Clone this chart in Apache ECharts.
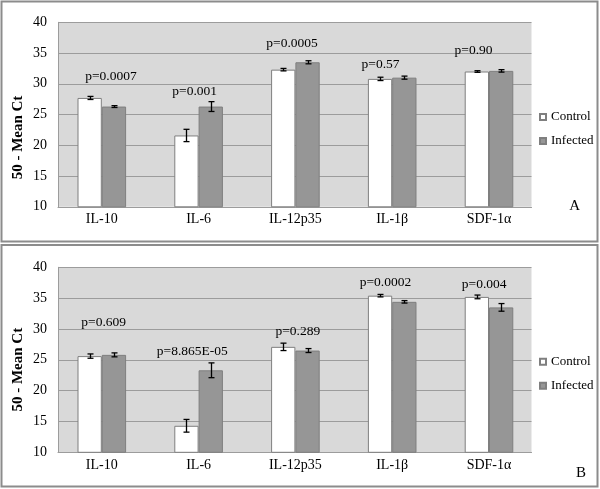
<!DOCTYPE html>
<html>
<head>
<meta charset="utf-8">
<script src="https://cdn.jsdelivr.net/npm/echarts@6/dist/echarts.min.js"></script>
<style>html,body{margin:0;padding:0;background:#fff;}#c{width:600px;height:489px;}</style>
</head>
<body>
<div id="c"></div>
<script>
// ---- data ----
const categories = ['IL-10', 'IL-6', 'IL-12p35', 'IL-1β', 'SDF-1α'];
const yTicks = [10, 15, 20, 25, 30, 35, 40];

// Panel A
const controlA = [27.7, 21.6, 32.3, 30.8, 32.0];
const controlErrA = [0.25, 1.0, 0.2, 0.27, 0.13];
const infectedA = [26.3, 26.3, 33.5, 31.0, 32.1];
const infectedErrA = [0.15, 0.8, 0.25, 0.25, 0.2];
const pTextA = ['p=0.0007', 'p=0.001', 'p=0.0005', 'p=0.57', 'p=0.90'];
const pValueAtA = [31.2, 28.7, 36.5, 33.2, 35.4];
const pShiftA = [0.095, -0.04, -0.035, -0.12, -0.16];

// Panel B
const controlB = [25.6, 14.3, 27.1, 35.4, 35.2];
const controlErrB = [0.35, 1.03, 0.6, 0.2, 0.3];
const infectedB = [25.8, 23.3, 26.5, 34.4, 33.5];
const infectedErrB = [0.32, 1.2, 0.32, 0.2, 0.62];
const pTextB = ['p=0.609', 'p=8.865E-05', 'p=0.289', 'p=0.0002', 'p=0.004'];
const pValueAtB = [31.0, 26.3, 29.6, 37.5, 37.2];
const pShiftB = [0.02, -0.065, 0.025, -0.07, -0.05];

// ---- styles ----
const FONT = 'Liberation Serif';
const BG = '#d9d9d9';
const GRIDLINE = '#9c9c9c';
const BAR_BORDER = '#7f7f7f';
const INFECTED = '#969696';
const GAP = '49.8%';
const BAR_FRAC = (1 - 0.498) / 2;

const chart = echarts.init(document.getElementById('c'), null, {renderer: 'canvas'});

function errSeries(gridIdx, vals, errs, sign) {
  return {
    type: 'custom', xAxisIndex: gridIdx, yAxisIndex: gridIdx, z: 5, silent: true,
    data: vals.map((v, i) => [i, v, errs[i]]),
    renderItem: function (params, api) {
      const i = api.value(0), v = api.value(1), e = api.value(2);
      const c = api.coord([i, v]);
      const bw = api.size([1, 0])[0];
      const x = Math.round(c[0] + sign * bw * BAR_FRAC / 2) + 0.5;
      const yt = api.coord([i, v + e])[1];
      const yb = api.coord([i, v - e])[1];
      const st = {stroke: '#000', lineWidth: 1.3};
      return {type: 'group', children: [
        {type: 'line', shape: {x1: x, y1: yt, x2: x, y2: yb}, style: st},
        {type: 'line', shape: {x1: x - 3, y1: yt, x2: x + 3, y2: yt}, style: st},
        {type: 'line', shape: {x1: x - 3, y1: yb, x2: x + 3, y2: yb}, style: st}
      ]};
    }
  };
}

function pSeries(gridIdx, texts, at, shift) {
  return {
    type: 'custom', xAxisIndex: gridIdx, yAxisIndex: gridIdx, z: 6, silent: true,
    data: at.map((v, i) => [i, v]),
    renderItem: function (params, api) {
      const i = api.value(0);
      const c = api.coord([i, api.value(1)]);
      const bw = api.size([1, 0])[0];
      return {type: 'text', x: c[0] + shift[i] * bw, y: c[1],
        style: {text: texts[i], fill: '#000', font: '13.5px "' + FONT + '"', align: 'center', verticalAlign: 'middle'}};
    }
  };
}

function bgY(gridIdx) {
  return {type: 'value', gridIndex: gridIdx, min: yTicks[0], max: yTicks[yTicks.length - 1], interval: yTicks[1] - yTicks[0],
    axisLine: {show: true, lineStyle: {color: GRIDLINE}}, axisTick: {show: false},
    axisLabel: {fontFamily: FONT, fontSize: 14, color: '#000', margin: 11},
    splitLine: {show: true, lineStyle: {color: GRIDLINE, width: 1}}};
}
function barY(gridIdx) {
  return {type: 'value', gridIndex: gridIdx, min: yTicks[0], max: yTicks[yTicks.length - 1], show: false, splitLine: {show: false}};
}
function bgX(gridIdx) {
  return {type: 'category', gridIndex: gridIdx, data: categories, axisLine: {show: true, lineStyle: {color: GRIDLINE}},
    axisTick: {show: false}, axisLabel: {show: false}};
}
function barX(gridIdx) {
  return {type: 'category', gridIndex: gridIdx, data: categories, axisLine: {show: false}, axisTick: {show: false},
    axisLabel: {fontFamily: FONT, fontSize: 14, color: '#000', margin: 6}};
}

const legendBase = {orient: 'vertical', left: 539, padding: 0, itemWidth: 6, itemHeight: 6, itemGap: 8, icon: 'rect',
  textStyle: {fontFamily: FONT, fontSize: 13, color: '#000', lineHeight: 16}, selectedMode: false,
  data: ['Control', 'Infected']};

const option = {
  animation: false,
  backgroundColor: '#fff',
  grid: [
    {left: 58, top: 22.3, width: 473.5, height: 184.5, show: true, backgroundColor: BG, borderWidth: 0},
    {left: 53.4, top: 22.3, width: 484, height: 184.5},
    {left: 58, top: 267.3, width: 473.5, height: 185, show: true, backgroundColor: BG, borderWidth: 0},
    {left: 53.4, top: 267.3, width: 484, height: 185}
  ],
  xAxis: [bgX(0), barX(1), bgX(2), barX(3)],
  yAxis: [bgY(0), barY(1), bgY(2), barY(3)],
  legend: [Object.assign({top: 109}, legendBase), Object.assign({top: 353.7}, legendBase)],
  series: [
    {name: 'Control', type: 'bar', xAxisIndex: 1, yAxisIndex: 1, data: controlA, barGap: 0, barCategoryGap: GAP,
      itemStyle: {color: '#fff', borderColor: BAR_BORDER, borderWidth: 1}},
    {name: 'Infected', type: 'bar', xAxisIndex: 1, yAxisIndex: 1, data: infectedA, barGap: 0, barCategoryGap: GAP,
      itemStyle: {color: INFECTED, borderColor: BAR_BORDER, borderWidth: 1}},
    {name: 'Control', type: 'bar', xAxisIndex: 3, yAxisIndex: 3, data: controlB, barGap: 0, barCategoryGap: GAP,
      itemStyle: {color: '#fff', borderColor: BAR_BORDER, borderWidth: 1}},
    {name: 'Infected', type: 'bar', xAxisIndex: 3, yAxisIndex: 3, data: infectedB, barGap: 0, barCategoryGap: GAP,
      itemStyle: {color: INFECTED, borderColor: BAR_BORDER, borderWidth: 1}},
    errSeries(1, controlA, controlErrA, -1),
    errSeries(1, infectedA, infectedErrA, 1),
    errSeries(3, controlB, controlErrB, -1),
    errSeries(3, infectedB, infectedErrB, 1),
    pSeries(1, pTextA, pValueAtA, pShiftA),
    pSeries(3, pTextB, pValueAtB, pShiftB)
  ],
  graphic: [
    {type: 'rect', shape: {x: 1.5, y: 1.5, width: 596, height: 240}, style: {fill: 'none', stroke: '#8c8c8c', lineWidth: 2}, silent: true},
    {type: 'rect', shape: {x: 1.5, y: 245, width: 596, height: 241.5}, style: {fill: 'none', stroke: '#8c8c8c', lineWidth: 2}, silent: true},
    {type: 'text', x: 18.5, y: 137.5, rotation: Math.PI / 2,
      style: {text: '50 - Mean Ct', fill: '#000', font: 'bold 15px "' + FONT + '"', align: 'center', verticalAlign: 'middle'}},
    {type: 'text', x: 18.5, y: 369.7, rotation: Math.PI / 2,
      style: {text: '50 - Mean Ct', fill: '#000', font: 'bold 15px "' + FONT + '"', align: 'center', verticalAlign: 'middle'}},
    {type: 'text', x: 574.7, y: 206, style: {text: 'A', fill: '#000', font: '15px "' + FONT + '"', align: 'center', verticalAlign: 'middle'}},
    {type: 'text', x: 581, y: 473.5, style: {text: 'B', fill: '#000', font: '15px "' + FONT + '"', align: 'center', verticalAlign: 'middle'}}
  ]
};
chart.setOption(option);
</script>
</body>
</html>
